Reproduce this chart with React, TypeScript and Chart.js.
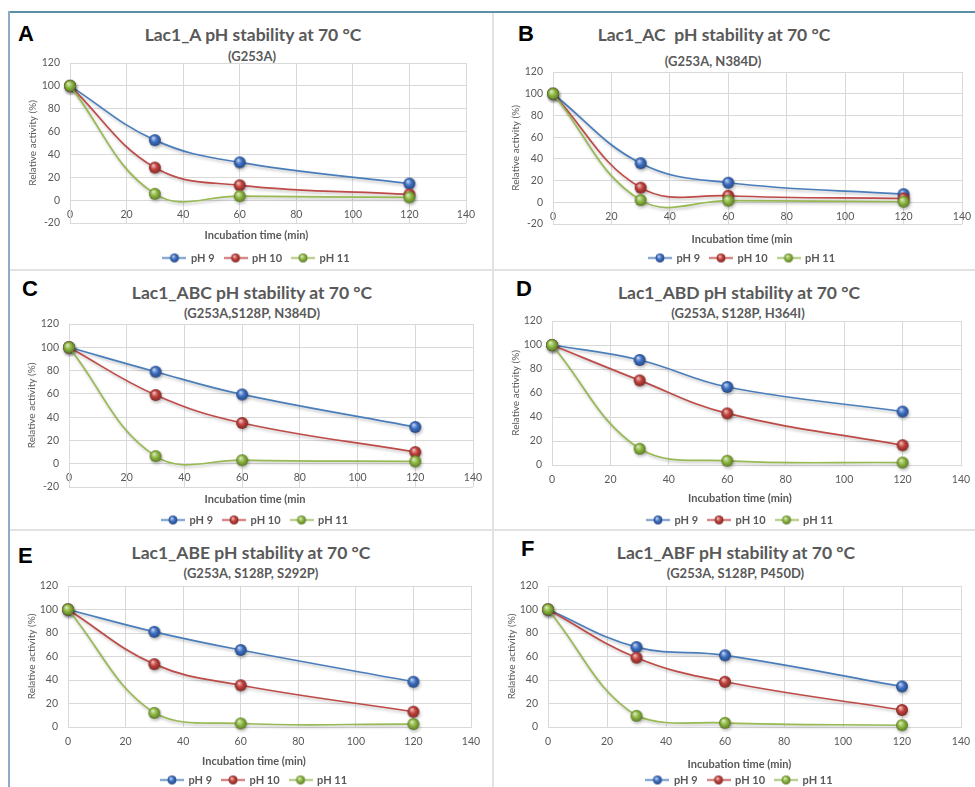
import React, { useEffect, useRef } from 'react';
import { Chart, registerables } from 'chart.js';
Chart.register(...registerables);

// ---------- data ----------
const times = [0, 30, 60, 120];
const seriesNames = ['pH 9', 'pH 10', 'pH 11'];

const lac1A_pH9 = [100, 52.5, 33, 14.5];
const lac1A_pH10 = [100, 28.5, 13, 5];
const lac1A_pH11 = [100, 5.5, 3.5, 2.5];

const lac1AC_pH9 = [100, 36, 18, 7.5];
const lac1AC_pH10 = [100, 13.5, 6, 3.5];
const lac1AC_pH11 = [100, 2, 1.5, 0.5];

const lac1ABC_pH9 = [100, 79, 59.5, 31.5];
const lac1ABC_pH10 = [100, 59, 35, 10];
const lac1ABC_pH11 = [100, 6.5, 3, 2];

const lac1ABD_pH9 = [100, 87.5, 65, 44.5];
const lac1ABD_pH10 = [100, 70.5, 43, 16.5];
const lac1ABD_pH11 = [100, 13.5, 3.5, 2];

const lac1ABE_pH9 = [100, 81, 65.5, 38.5];
const lac1ABE_pH10 = [100, 53.5, 35.5, 13];
const lac1ABE_pH11 = [100, 12, 3, 2.5];

const lac1ABF_pH9 = [100, 68, 61, 34.5];
const lac1ABF_pH10 = [100, 59, 38.5, 14.5];
const lac1ABF_pH11 = [100, 9.5, 3.5, 1.5];

const panelSeries = [
  [lac1A_pH9, lac1A_pH10, lac1A_pH11],
  [lac1AC_pH9, lac1AC_pH10, lac1AC_pH11],
  [lac1ABC_pH9, lac1ABC_pH10, lac1ABC_pH11],
  [lac1ABD_pH9, lac1ABD_pH10, lac1ABD_pH11],
  [lac1ABE_pH9, lac1ABE_pH10, lac1ABE_pH11],
  [lac1ABF_pH9, lac1ABF_pH10, lac1ABF_pH11],
];

const panelLetters = ['A', 'B', 'C', 'D', 'E', 'F'];
const panelTitles = [
  'Lac1_A pH stability at 70 °C',
  'Lac1_AC  pH stability at 70 °C',
  'Lac1_ABC pH stability at 70 °C',
  'Lac1_ABD pH stability at 70 °C',
  'Lac1_ABE pH stability at 70 °C',
  'Lac1_ABF pH stability at 70 °C',
];
const panelSubtitles = [
  '(G253A)',
  '(G253A, N384D)',
  '(G253A,S128P, N384D)',
  '(G253A, S128P, H364I)',
  '(G253A, S128P, S292P)',
  '(G253A, S128P, P450D)',
];
const xTitles = [
  'Incubation time (min)',
  'Incubation time (min',
  'Incubation time (min',
  'Incubation time (min)',
  'Incubation time (min)',
  'Incubation time (min)',
];
const yTitle = 'Relative activity (%)';
const yMins = [-20, -20, -20, 0, 0, 0];
const yMax = 120;
const yStep = 20;
const xMin = 0;
const xMax = 140;
const xStep = 20;

// ---------- styling / layout ----------
const FONT = 'Lato, "Open Sans", sans-serif';
const GRAY = '#595959';
const GRID = '#d9d9d9';
const seriesColors = ['#4A7EBB', '#BE4B48', '#98B954'];
const sphereColors = ['#3C6FC4', '#C2403B', '#8DB83F'];

type PanelLayout = {
  letter: [number, number];
  title: [number, number];
  sub: [number, number];
  plot: { l: number; r: number; t: number; b: number };
  yTitleX: number;
  xTitleY: number;
  legend: [number, number];
  canvas: [number, number];
};

const layouts: PanelLayout[] = [
  { letter: [18, 35], title: [253, 35], sub: [252, 56], plot: { l: 70, r: 466, t: 63, b: 223 }, yTitleX: 33, xTitleY: 235, legend: [256.5, 258], canvas: [8, 13] },
  { letter: [518, 35], title: [714, 35], sub: [713, 61], plot: { l: 553, r: 962, t: 72, b: 224 }, yTitleX: 516, xTitleY: 239, legend: [742, 258], canvas: [493, 13] },
  { letter: [22, 290], title: [252, 293], sub: [252, 313], plot: { l: 69, r: 473, t: 324, b: 487 }, yTitleX: 32, xTitleY: 499, legend: [255, 520], canvas: [8, 271] },
  { letter: [516, 290], title: [739, 293], sub: [738, 313], plot: { l: 552, r: 961, t: 321, b: 465 }, yTitleX: 516, xTitleY: 498, legend: [740, 520], canvas: [493, 271] },
  { letter: [18, 557], title: [251, 553], sub: [251, 573], plot: { l: 68, r: 471, t: 586, b: 727 }, yTitleX: 32, xTitleY: 761, legend: [254, 780], canvas: [8, 531] },
  { letter: [521, 550], title: [736, 553], sub: [735.5, 573], plot: { l: 548, r: 961, t: 586, b: 727 }, yTitleX: 512, xTitleY: 764, legend: [739.5, 780], canvas: [493, 531] },
];

function hexToRgb(h: string) {
  const n = parseInt(h.slice(1), 16);
  return [(n >> 16) & 255, (n >> 8) & 255, n & 255];
}
function mix(h: string, target: number, t: number) {
  const [r, g, b] = hexToRgb(h);
  const f = (c: number) => Math.round(c + (target - c) * t);
  return `rgb(${f(r)},${f(g)},${f(b)})`;
}

function makeSphere(color: string, lineColor: string, r: number, width?: number) {
  const pad = 1;
  const h = Math.ceil(2 * r + 2 * pad);
  const w = width ?? h;
  const c = document.createElement('canvas');
  c.width = w;
  c.height = h;
  const g = c.getContext('2d')!;
  const cx = w / 2;
  const cy = h / 2;
  if (width) {
    g.strokeStyle = lineColor;
    g.lineWidth = 1.6;
    g.beginPath();
    g.moveTo(0, cy);
    g.lineTo(w, cy);
    g.stroke();
  }
  const grad = g.createRadialGradient(cx - r * 0.3, cy - r * 0.4, r * 0.05, cx, cy, r);
  grad.addColorStop(0, mix(color, 255, 0.7));
  grad.addColorStop(0.5, color);
  grad.addColorStop(1, mix(color, 0, 0.35));
  g.fillStyle = grad;
  g.beginPath();
  g.arc(cx, cy, r, 0, Math.PI * 2);
  g.fill();
  return c;
}

const shadowPlugin = {
  id: 'lineShadow',
  beforeDatasetDraw(chart: any) {
    const ctx = chart.ctx;
    ctx.save();
    ctx.shadowColor = 'rgba(0,0,0,0.25)';
    ctx.shadowBlur = 3;
    ctx.shadowOffsetX = 1;
    ctx.shadowOffsetY = 2;
  },
  afterDatasetDraw(chart: any) {
    chart.ctx.restore();
  },
};

function Panel({ idx }: { idx: number }) {
  const ref = useRef<HTMLCanvasElement>(null);
  const L = layouts[idx];
  const [cLeft, cTop] = L.canvas;
  const W = Math.round(2 * (L.legend[0] - cLeft));
  const xtFont = 11;
  const lgFont = 11;
  const lgPad = 10;
  const tpTop = L.xTitleY - L.plot.b - xtFont / 2;
  const tpBot = L.legend[1] - L.plot.b - tpTop - xtFont - lgPad - lgFont / 2;
  const legendH = xtFont + tpTop + tpBot + lgFont + lgPad + 10;
  const Hexact = L.plot.b - cTop + legendH;
  const H = Math.ceil(Hexact);
  const padBottom = H - Hexact;
  const yW = L.plot.l - cLeft;
  const rW = cLeft + W - L.plot.r;
  const padTop = L.plot.t - cTop;
  const ytFont = 10;
  const ytPad = L.yTitleX - cLeft - (ytFont * 1.2) / 2;

  useEffect(() => {
    const spheres = sphereColors.map((c, k) => makeSphere(c, seriesColors[k], 6));
    const icons = sphereColors.map((c, k) => makeSphere(c, seriesColors[k], 4.5, 24));
    const order = [2, 1, 0];
    const datasets = panelSeries[idx].map((vals, k) => ({
      label: seriesNames[k],
      data: times.map((t, j) => ({ x: t, y: vals[j] })),
      borderColor: seriesColors[k],
      backgroundColor: seriesColors[k],
      borderWidth: 1.7,
      pointStyle: spheres[k],
      pointRadius: 6,
      tension: 0.4,
      fill: false,
      clip: false,
      order: order[k],
    }));
    const tickFont = { family: FONT, size: 10.5 };
    const chart = new Chart(ref.current!, {
      type: 'line',
      data: { datasets },
      plugins: [shadowPlugin],
      options: {
        animation: false,
        responsive: false,
        events: [],
        layout: { padding: { top: padTop, left: 0, right: 0, bottom: padBottom } },
        plugins: {
          title: { display: false },
          tooltip: { enabled: false },
          legend: {
            position: 'bottom',
            title: {
              display: true,
              text: xTitles[idx],
              color: GRAY,
              font: { family: FONT, size: xtFont, weight: 'bold', lineHeight: 1 },
              padding: { top: tpTop, bottom: tpBot },
            },
            labels: {
              usePointStyle: true,
              pointStyleWidth: 22,
              padding: lgPad,
              color: GRAY,
              font: { family: FONT, size: lgFont, weight: 'bold' },
              generateLabels: (ch: any) =>
                ch.data.datasets.map((ds: any, k: number) => ({
                  text: ds.label,
                  fillStyle: seriesColors[k],
                  strokeStyle: seriesColors[k],
                  lineWidth: 0,
                  pointStyle: icons[k],
                  hidden: false,
                  datasetIndex: k,
                  fontColor: GRAY,
                })),
            },
          },
        },
        scales: {
          x: {
            type: 'linear',
            min: xMin,
            max: xMax,
            position: { y: 0 },
            ticks: { stepSize: xStep, color: GRAY, font: tickFont, padding: 8, maxRotation: 0 },
            grid: { color: GRID, drawTicks: false },
            border: { color: GRID },
          },
          y: {
            type: 'linear',
            min: yMins[idx],
            max: yMax,
            position: 'left',
            ticks: { stepSize: yStep, color: GRAY, font: tickFont, padding: 10 },
            grid: { color: GRID, drawTicks: false },
            border: { color: GRID },
            title: {
              display: true,
              text: yTitle,
              color: GRAY,
              font: { family: FONT, size: ytFont },
              padding: { top: ytPad, bottom: 0 },
            },
            afterFit: (s: any) => {
              s.width = yW;
            },
          },
          yr: {
            type: 'linear',
            position: 'right',
            display: true,
            grid: { display: false },
            border: { display: false },
            ticks: { display: false },
            afterFit: (s: any) => {
              s.width = rW;
            },
          },
        },
      } as any,
    });
    return () => chart.destroy();
  }, []);

  return (
    <canvas
      ref={ref}
      width={W}
      height={H}
      style={{ position: 'absolute', left: cLeft, top: cTop, width: W, height: H }}
    />
  );
}

function TextAt({ x, y, text, size, color, family, align }: { x: number; y: number; text: string; size: number; color: string; family: string; align: 'center' | 'left' }) {
  const lh = Math.round(size * 1.2);
  const style: React.CSSProperties = {
    position: 'absolute',
    top: y - lh / 2 - 0.03 * size,
    fontFamily: family,
    fontWeight: 'bold',
    fontSize: size,
    lineHeight: `${lh}px`,
    color,
    whiteSpace: 'pre',
  };
  if (align === 'center') {
    style.left = x - 250;
    style.width = 500;
    style.textAlign = 'center';
  } else {
    style.left = x;
  }
  return <div style={style}>{text}</div>;
}

export default function App() {
  const deco = (left: number, top: number, width: number, height: number, bg: string) => (
    <div style={{ position: 'absolute', left, top, width, height, background: bg }} />
  );
  return (
    <div style={{ position: 'fixed', left: 0, top: 0, width: 975, height: 787, overflow: 'hidden', background: '#ffffff' }}>
      {deco(10, 269, 965, 2, '#e2e2e2')}
      {deco(10, 529, 965, 2, '#e2e2e2')}
      {deco(492, 13, 2, 774, '#e2e2e2')}
      {deco(8, 11, 967, 2, '#5b8fa8')}
      {deco(8, 11, 2, 776, '#8eaac4')}
      {layouts.map((L, i) => (
        <React.Fragment key={i}>
          <TextAt x={L.letter[0]} y={L.letter[1]} text={panelLetters[i]} size={22} color="#000000" family='"Liberation Sans", Arial, sans-serif' align="left" />
          <TextAt x={L.title[0]} y={L.title[1]} text={panelTitles[i]} size={17.5} color={GRAY} family={FONT} align="center" />
          <TextAt x={L.sub[0]} y={L.sub[1]} text={panelSubtitles[i]} size={13} color={GRAY} family={FONT} align="center" />
        </React.Fragment>
      ))}
      {layouts.map((_, i) => (
        <Panel key={`p${i}`} idx={i} />
      ))}
    </div>
  );
}
